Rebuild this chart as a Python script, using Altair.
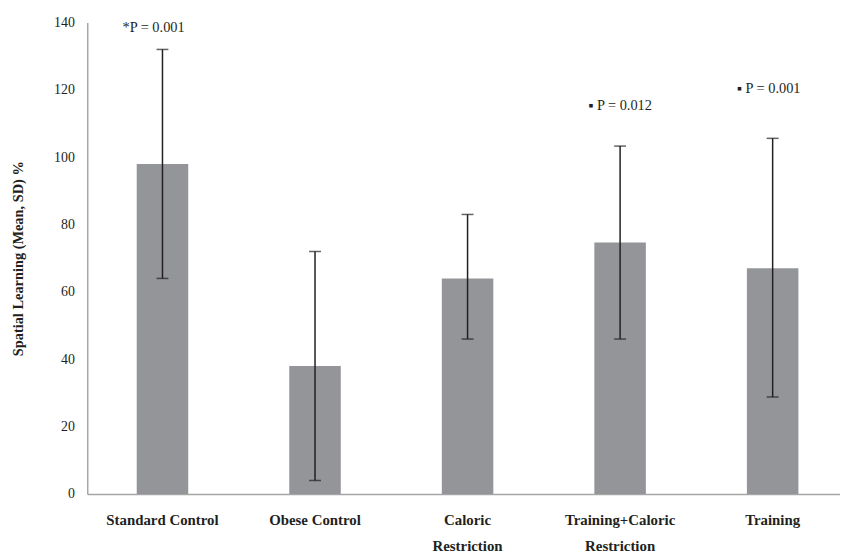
import altair as alt
import pandas as pd

groups = ["Standard Control", "Obese Control", "Caloric Restriction",
          "Training+Caloric Restriction", "Training"]
means = [98, 38, 64, 74.7, 67]
lower = [64, 4, 46, 46, 28.8]
upper = [132, 72, 83, 103.3, 105.6]

ann_groups = ["Standard Control", "Training+Caloric Restriction", "Training"]
ann_texts = ["*P = 0.001", "\u25aa P = 0.012", "\u25aa P = 0.001"]
ann_y = [138.5, 115.3, 120.3]
ann_dx = [-9, 0, -4]

df = pd.DataFrame({"group": groups, "mean": means, "lo": lower, "hi": upper})
ann = pd.DataFrame({"group": ann_groups, "text": ann_texts, "y": ann_y})

FONT = "Liberation Serif"
INK = "#231f20"

x = alt.X("group:N", sort=groups, title=None,
          scale=alt.Scale(paddingInner=0.6623, paddingOuter=0.331, align=0.49),
          axis=alt.Axis(labelAngle=0, labelFont=FONT, labelFontWeight="bold",
                        labelFontSize=15, labelColor=INK, labelPadding=19,
                        labelLineHeight=26, ticks=False, domainColor="#a6a6a6",
                        domainWidth=1.5,
                        labelExpr="datum.label == 'Caloric Restriction' ? ['Caloric', 'Restriction'] : datum.label == 'Training+Caloric Restriction' ? ['Training+Caloric', 'Restriction'] : datum.label"))

y = alt.Y("mean:Q", title="Spatial Learning (Mean, SD) %",
          scale=alt.Scale(domain=[0, 140], nice=False),
          axis=alt.Axis(values=[0, 20, 40, 60, 80, 100, 120, 140], grid=False,
                        ticks=False, labelFont=FONT, labelFontSize=14,
                        labelColor=INK, labelPadding=13,
                        domainColor="#a6a6a6", domainWidth=1.5,
                        titleFont=FONT, titleFontWeight="bold", titleFontSize=14.5,
                        titleColor=INK, titlePadding=28))

base = alt.Chart(df)
bars = base.mark_bar(color="#939598").encode(x=x, y=y)
rules = base.mark_rule(color=INK, strokeWidth=1.5).encode(x=x, y="lo:Q", y2="hi:Q")
cap_hi = base.mark_tick(color=INK, orient="horizontal", size=12, thickness=1.5).encode(
    x=x, y="hi:Q")
cap_lo = base.mark_tick(color=INK, orient="horizontal", size=12, thickness=1.5).encode(
    x=x, y="lo:Q")

parts = []
for i in range(len(ann_texts)):
    parts.append(alt.Chart(ann.iloc[[i]]).mark_text(font=FONT, fontSize=14.5, color=INK,
                                                    baseline="middle", dx=ann_dx[i]).encode(
        x=x, y="y:Q", text="text:N"))

chart = alt.layer(bars, rules, cap_hi, cap_lo, *parts).properties(
    width=770, height=476,
    autosize=alt.AutoSizeParams(type="none"),
    padding={"left": 80, "top": 12, "right": -10, "bottom": 60},
    background="white",
).configure_view(stroke=None)

chart.save("out.html", embed_options={"renderer": "svg", "actions": False})
